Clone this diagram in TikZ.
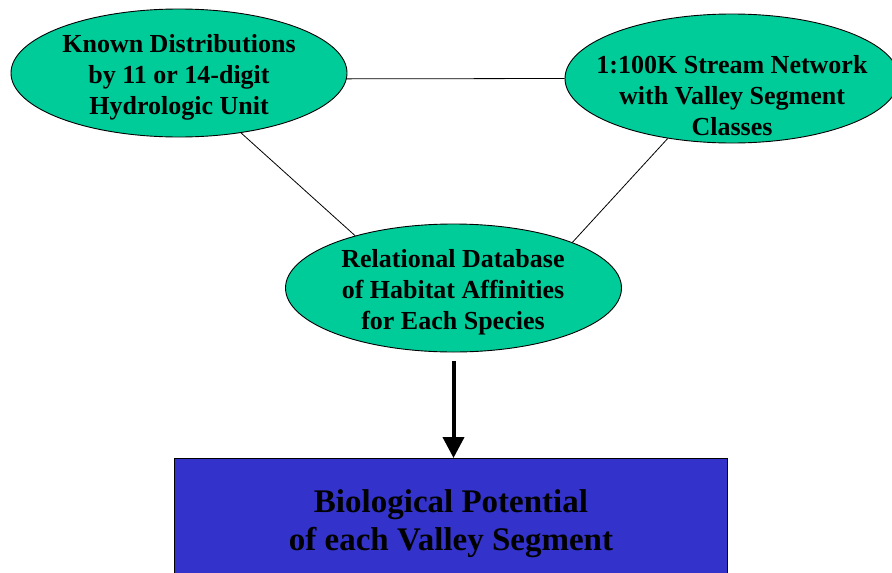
\documentclass[tikz,border=0pt]{standalone}
\usepackage{fontspec}
\setmainfont{Liberation Serif}[BoldFont={Liberation Serif Bold}]
\usetikzlibrary{arrows.meta,shapes.geometric}
\definecolor{ellfill}{RGB}{0,204,153}
\definecolor{boxfill}{RGB}{51,51,204}
\begin{document}
\begin{tikzpicture}[x=1pt,y=-1pt,
  oval/.style={ellipse,draw=black,fill=ellfill,line width=0.9pt,inner sep=0pt,minimum width=336pt,minimum height=128pt},
  lbl/.style={align=center,font=\bfseries\fontsize{26}{31}\selectfont,inner sep=0pt},
  bigl/.style={align=center,font=\bfseries\fontsize{33}{38}\selectfont,inner sep=0pt},
  link/.style={draw=black,line width=0.8pt},
  resbox/.style={draw=black,fill=boxfill,line width=0.8pt,inner sep=0pt,minimum width=553pt,minimum height=150pt,anchor=north}
]
\useasboundingbox (0,0) rectangle (892,573);
\clip (0,0) rectangle (892,573);
\node[oval] (L) at (179,73) {};
\node[oval,minimum width=334pt,minimum height=129pt] (R) at (732,78.5) {};
\node[oval] (M) at (453.5,288) {};
\node[lbl] (Lt) at (179,77.5) {Known Distributions\\by 11 or 14-digit\\Hydrologic Unit};
\node[lbl] (Rt) at (732,96) {1:100K Stream Network\\with Valley Segment\\Classes};
\node[lbl] (Mt) at (453,292) {Relational Database\\of Habitat Affinities\\for Each Species};
\node[resbox] (B) at (450.5,458) {};
\node[bigl] (Bt) at (451,523.5) {Biological Potential\\of each Valley Segment};
\draw[link] (L.-2.4) -- (R.180.5);
\draw[link] (L.-44.5) -- (M.152);
\draw[link] (R.223.6) -- (M.21);
\draw[line width=4pt,-{Triangle[width=21pt,length=21pt]}] ([yshift=-9pt]M.south) -- (M.south |- B.north);
\end{tikzpicture}
\end{document}
